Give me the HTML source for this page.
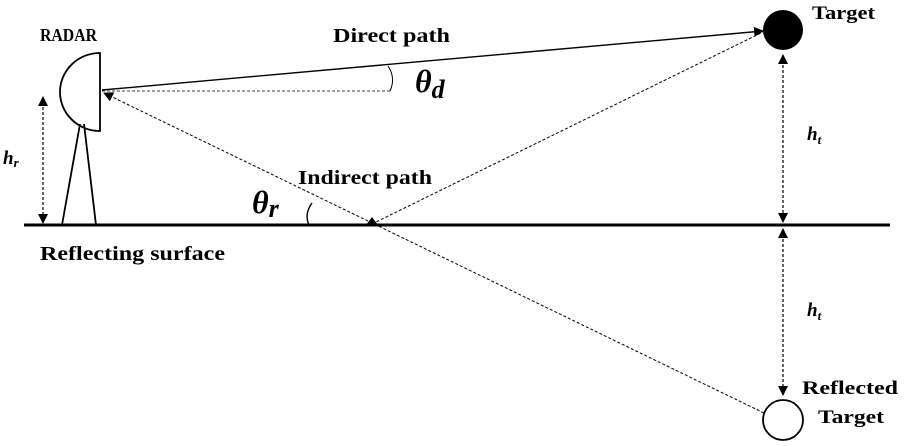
<!DOCTYPE html>
<html><head><meta charset="utf-8"><style>
html,body{margin:0;padding:0;background:#fff;}
svg{display:block;}
text{font-family:"Liberation Serif",serif;font-weight:bold;fill:#000;}
</style></head><body>
<svg width="907" height="446" viewBox="0 0 907 446" xmlns="http://www.w3.org/2000/svg">
<defs>
<marker id="a" viewBox="0 0 10 10" refX="9" refY="5" markerWidth="10" markerHeight="10" orient="auto-start-reverse" markerUnits="userSpaceOnUse"><path d="M0,0 L10,5 L0,10 z" fill="#000"/></marker>
</defs>
<line x1="24" y1="225" x2="890" y2="225" stroke="#000" stroke-width="3"/>
<path d="M100,53 L100,131 A40,39 0 0 1 100,53 Z" fill="#fff" stroke="#000" stroke-width="1.8"/>
<path d="M62,225 L80,124 M96,225 L84,124" stroke="#000" stroke-width="1.8" fill="none"/>
<line x1="43" y1="97" x2="43" y2="223" stroke="#000" stroke-width="1.2" stroke-dasharray="3,2" marker-start="url(#a)" marker-end="url(#a)"/>
<line x1="102" y1="90" x2="763" y2="31" stroke="#000" stroke-width="1.4" marker-end="url(#a)"/>
<line x1="102" y1="91" x2="390" y2="91" stroke="#000" stroke-width="0.8" stroke-dasharray="3,2"/>
<path d="M388,66 Q396,78 390,91" stroke="#000" stroke-width="1" fill="none"/>
<line x1="372" y1="224" x2="763" y2="32" stroke="#000" stroke-width="1" stroke-dasharray="3,2"/>
<polygon points="372,217 366,225 378,225" fill="#000"/>
<line x1="764" y1="413" x2="104" y2="93" stroke="#000" stroke-width="1" stroke-dasharray="3,2" marker-end="url(#a)"/>
<path d="M312,203 Q304,214 309,225" stroke="#000" stroke-width="1.4" fill="none"/>
<circle cx="783" cy="30" r="20" fill="#000"/>
<circle cx="783" cy="420" r="20" fill="#fff" stroke="#000" stroke-width="1.8"/>
<line x1="783" y1="55" x2="783" y2="222" stroke="#000" stroke-width="1.2" stroke-dasharray="3,2" marker-start="url(#a)" marker-end="url(#a)"/>
<line x1="783" y1="229" x2="783" y2="395" stroke="#000" stroke-width="1.2" stroke-dasharray="3,2" marker-start="url(#a)" marker-end="url(#a)"/>
<text x="40" y="41" font-size="18" textLength="57" lengthAdjust="spacingAndGlyphs">RADAR</text>
<text x="333" y="42" font-size="20" textLength="117" lengthAdjust="spacingAndGlyphs">Direct path</text>
<text x="298" y="184" font-size="20" textLength="134" lengthAdjust="spacingAndGlyphs">Indirect path</text>
<text x="40" y="260" font-size="20" textLength="185" lengthAdjust="spacingAndGlyphs">Reflecting surface</text>
<text x="812" y="19" font-size="19" textLength="63" lengthAdjust="spacingAndGlyphs">Target</text>
<text x="802" y="394" font-size="19" textLength="96" lengthAdjust="spacingAndGlyphs">Reflected</text>
<text x="818" y="423" font-size="19" textLength="66" lengthAdjust="spacingAndGlyphs">Target</text>
<text x="415" y="92" font-size="32" font-style="italic">θ<tspan font-size="26" dy="6">d</tspan></text>
<text x="252" y="213" font-size="32" font-style="italic">θ<tspan font-size="26" dy="4">r</tspan></text>
<text x="3" y="164" font-size="19" font-style="italic">h<tspan font-size="13" dy="3">r</tspan></text>
<text x="807" y="140" font-size="19" font-style="italic">h<tspan font-size="13" dy="4">t</tspan></text>
<text x="807" y="316" font-size="19" font-style="italic">h<tspan font-size="13" dy="4">t</tspan></text>
</svg>
</body></html>
